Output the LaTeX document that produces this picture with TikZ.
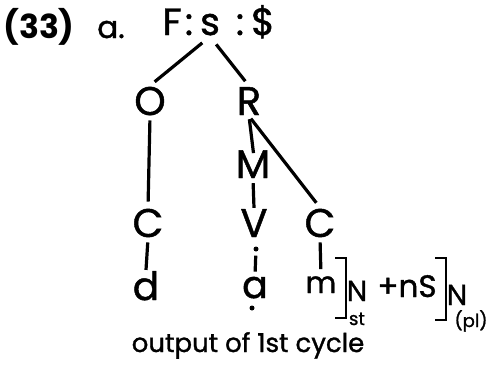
\documentclass[tikz,border=0pt]{standalone}
\usepackage{fontspec}
\setmainfont{Poppins}
\newfontface\hand{Poppins}[FakeBold=1.2]
\usetikzlibrary{positioning}

\begin{document}
\begin{tikzpicture}[x=1pt,y=-1pt,
    sym/.style={anchor=base, inner sep=1pt, font=\hand\fontsize{40}{42}\selectfont},
    low/.style={anchor=base, inner sep=1pt, font=\hand\fontsize{30}{32}\selectfont},
    sub/.style={anchor=base, inner sep=0pt, font=\hand\fontsize{18}{20}\selectfont},
    dot/.style={fill=black, circle, inner sep=0pt, minimum size=5pt},
    branch/.style={line width=3.2pt}]
\useasboundingbox (0,0) rectangle (492,370);

% example number and the root F:s:$
\node[sym, font=\bfseries\fontsize{33}{35}\selectfont] (num) at (39,38) {(33)};
\node[sym, font=\hand\fontsize{31}{33}\selectfont] (ex) at (111,38) {a.};
\foreach \n/\t/\x/\y in {F/F/172/35, c1/:/189/35, s/s/210/35, c2/:/240/35, dol/\$/263/35}
    \node[sym, font=\hand\fontsize{38}{40}\selectfont] (\n) at (\x,\y) {\t};

% tree nodes
\foreach \n/\t/\x/\y in {O/O/150/115, R/R/249/115, M/M/253/178, Cl/C/148/237, V/V/254/237, Cr/C/320/237}
    \node[sym] (\n) at (\x,\y) {\t};
\node[sym, font=\hand\fontsize{39}{41}\selectfont] (d) at (146,300) {d};
\node[sym, font=\hand\fontsize{38}{40}\selectfont] (a) at (255,298) {a};
\node[low] (m) at (321,293) {m};

% dots on the vowel line
\node[dot] (vdot) at (256,249) {};
\node[dot] (adot) at (252,308) {};

% branches
\draw[branch, shorten <=10pt, shorten >=6pt] (s.south) -- (O.north);
\draw[branch, shorten <=10pt, shorten >=6pt] (s.south) -- (R.north);
\draw[branch, shorten <=4pt, shorten >=6pt] (O.south) -- (Cl.north);
\draw[branch, shorten <=3pt, shorten >=-4pt] (R.south) -- (M.north);
\draw[branch, shorten <=3pt, shorten >=6pt] (R.south) -- (Cr.north);
\draw[branch, shorten <=4pt, shorten >=0pt] (M.south) -- (V.north);
\draw[branch, shorten <=4pt, shorten >=0pt] (Cl.south) -- (d.north);
\draw[branch, shorten <=4pt, shorten >=4pt] (vdot) -- (a.north);
\draw[branch, shorten <=4pt, shorten >=6pt] (Cr.south) -- (m.north);

% bracketed morphology
\draw[line width=2.2pt] (335,258) -- (346,258) -- (346,318) -- (335,318);
\node[sym, font=\hand\fontsize{29}{31}\selectfont] (N1) at (357,301) {N};
\node[sub] (st) at (357,325) {st};
\node[low, font=\hand\fontsize{31}{33}\selectfont] (plus) at (407,297) {+nS};
\draw[line width=2.2pt] (435,258) -- (446,258) -- (446,320) -- (435,320);
\node[sym, font=\hand\fontsize{29}{31}\selectfont] (N2) at (457,305) {N};
\node[sub] (pl) at (471,327) {(pl)};

% caption
\node[anchor=base, font=\hand\fontsize{26}{28}\selectfont] (cap) at (248,352) {output of 1st cycle};
\end{tikzpicture}
\end{document}
